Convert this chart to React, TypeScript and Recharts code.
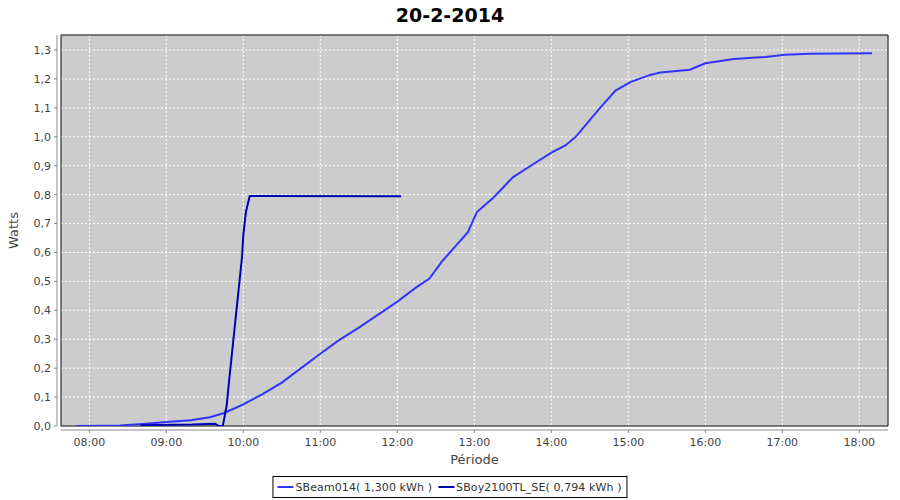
import { LineChart, Line, XAxis, YAxis, CartesianGrid, ReferenceArea } from "recharts";

// SBeam014 readings (time of day, kW)
const sbeamTimes = [
  "07:50", "08:24", "08:44", "09:00", "09:19", "09:34", "09:45", "10:00", "10:15", "10:30",
  "10:45", "11:00", "11:14", "11:30", "11:50", "12:00", "12:15", "12:25", "12:35", "12:45",
  "12:55", "13:02", "13:15", "13:30", "13:44", "14:00", "14:11", "14:19", "14:38", "14:50",
  "15:02", "15:17", "15:25", "15:48", "16:00", "16:12", "16:22", "16:47", "17:02", "17:22",
  "18:10",
];
const sbeamWatts = [
  0.0, 0.002, 0.008, 0.014, 0.02, 0.03, 0.045, 0.075, 0.11, 0.15,
  0.2, 0.25, 0.295, 0.34, 0.4, 0.43, 0.48, 0.51, 0.57, 0.62,
  0.67, 0.74, 0.79, 0.86, 0.9, 0.945, 0.97, 1.0, 1.1, 1.16,
  1.19, 1.214, 1.222, 1.232, 1.254, 1.262, 1.269, 1.276, 1.284, 1.287,
  1.289,
];

// SBoy2100TL_SE readings
const sboyTimes = [
  "08:40", "09:20", "09:38", "09:41", "09:44", "09:47", "09:49", "09:59", "10:00", "10:02",
  "10:05", "12:03",
];
const sboyWatts = [
  0.003, 0.005, 0.008, 0.0, 0.0, 0.07, 0.16, 0.585, 0.66, 0.74,
  0.795, 0.794,
];

const hourTicks = [8, 9, 10, 11, 12, 13, 14, 15, 16, 17, 18];
const hourLabels = ["08:00", "09:00", "10:00", "11:00", "12:00", "13:00", "14:00", "15:00", "16:00", "17:00", "18:00"];
const wattTicks = [0, 0.1, 0.2, 0.3, 0.4, 0.5, 0.6, 0.7, 0.8, 0.9, 1.0, 1.1, 1.2, 1.3];
const wattLabels = ["0,0", "0,1", "0,2", "0,3", "0,4", "0,5", "0,6", "0,7", "0,8", "0,9", "1,0", "1,1", "1,2", "1,3"];

const series = [
  { name: "SBeam014( 1,300 kWh )", color: "#3333ff" },
  { name: "SBoy2100TL_SE( 0,794 kWh )", color: "#0000b4" },
];

const X_MIN = 7.632;
const X_MAX = 18.373;
const Y_MAX = 1.352;

const toHours = (s: string) => {
  const [h, m] = s.split(":").map(Number);
  return h + m / 60;
};

const sbeamData = sbeamTimes.map((t, i) => ({ t: toHours(t), w: sbeamWatts[i] }));
const sboyData = sboyTimes.map((t, i) => ({ t: toHours(t), w: sboyWatts[i] }));

const FONT = "'DejaVu Sans', sans-serif";
const tickStyle = { fill: "#444", fontSize: 11, fontFamily: FONT };

export default function App() {
  return (
    <div style={{ position: "relative", width: 900, height: 500, background: "#fff", fontFamily: FONT }}>
      <style>{"body{margin:0}"}</style>
      <div
        style={{
          position: "absolute", top: 4, left: 0, width: 900, textAlign: "center",
          fontSize: 19, fontWeight: "bold", color: "#000",
        }}
      >
        20-2-2014
      </div>

      <LineChart width={900} height={500} margin={{ top: 35, right: 12, bottom: 0, left: 0 }}>
        <CartesianGrid fill="#cccccc" stroke="#ffffff" strokeDasharray="2 2" />
        <XAxis
          type="number"
          dataKey="t"
          domain={[X_MIN, X_MAX]}
          ticks={hourTicks}
          allowDataOverflow
          height={74}
          tickSize={3}
          tickMargin={9}
          tick={tickStyle}
          tickFormatter={(v: number) => hourLabels[hourTicks.indexOf(v)] ?? ""}
          axisLine={{ stroke: "#888", transform: "translate(0,4)" }}
          tickLine={{ stroke: "#888", transform: "translate(0,4)" }}
          label={{
            content: (p: any) => (
              <text
                x={p.viewBox.x + p.viewBox.width / 2}
                y={p.viewBox.y + 38}
                textAnchor="middle"
                fontSize={13}
                fontFamily={FONT}
                fill="#444"
              >
                Période
              </text>
            ),
          }}
        />
        <YAxis
          type="number"
          domain={[0, Y_MAX]}
          ticks={wattTicks}
          allowDataOverflow
          width={61}
          tickSize={3}
          tickMargin={7}
          tick={tickStyle}
          tickFormatter={(v: number) => wattLabels[wattTicks.indexOf(v)] ?? ""}
          axisLine={{ stroke: "#888", transform: "translate(-4,0)" }}
          tickLine={{ stroke: "#888", transform: "translate(-4,0)" }}
          label={{
            content: (p: any) => {
              const cx = 18;
              const cy = p.viewBox.y + p.viewBox.height / 2;
              return (
                <text
                  x={cx}
                  y={cy}
                  transform={`rotate(-90, ${cx}, ${cy})`}
                  textAnchor="middle"
                  fontSize={13}
                  fontFamily={FONT}
                  fill="#444"
                >
                  Watts
                </text>
              );
            },
          }}
        />
        <ReferenceArea
          x1={X_MIN}
          x2={X_MAX}
          y1={0}
          y2={Y_MAX}
          fill="none"
          stroke="#000"
          strokeWidth={1}
          ifOverflow="visible"
        />
        <Line
          data={sbeamData}
          dataKey="w"
          name={series[0].name}
          type="linear"
          stroke={series[0].color}
          strokeWidth={2}
          dot={false}
          isAnimationActive={false}
        />
        <Line
          data={sboyData}
          dataKey="w"
          name={series[1].name}
          type="linear"
          stroke={series[1].color}
          strokeWidth={2}
          dot={false}
          isAnimationActive={false}
        />
      </LineChart>

      <div
        style={{
          position: "absolute", top: 476, left: "50%", transform: "translateX(-50%)",
          height: 22, boxSizing: "border-box", border: "1px solid #000",
          display: "flex", alignItems: "center", padding: "0 5px 0 4px",
          fontSize: 11, letterSpacing: 0.1, color: "#333", whiteSpace: "nowrap", background: "#fff",
        }}
      >
        {series.map((s, i) => (
          <span key={s.name} style={{ display: "flex", alignItems: "center", marginLeft: i ? 6 : 0 }}>
            <span style={{ display: "inline-block", width: 16, height: 2, background: s.color, marginRight: 2 }} />
            {s.name}
          </span>
        ))}
      </div>
    </div>
  );
}
